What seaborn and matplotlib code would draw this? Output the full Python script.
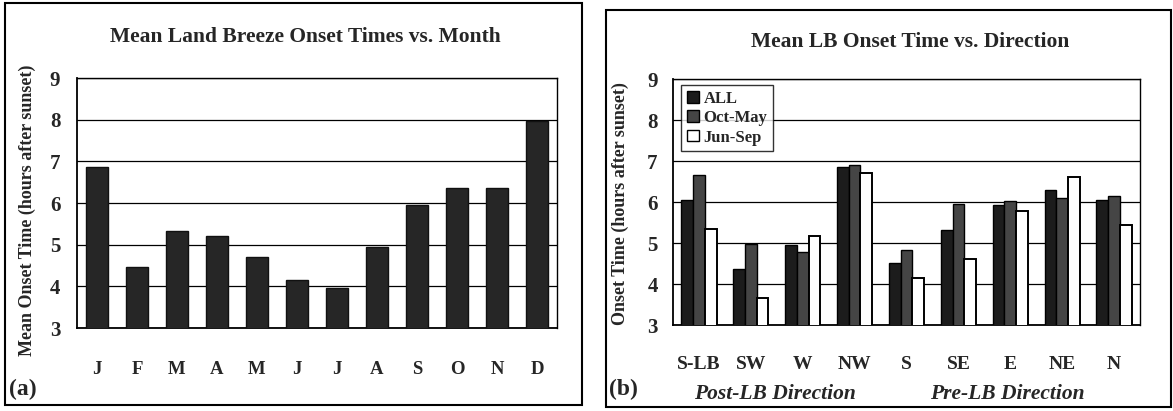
import matplotlib
matplotlib.use("Agg")
import matplotlib.pyplot as plt
import seaborn as sns
import pandas as pd
from matplotlib.patches import Rectangle, Patch

# ---- data ----
month_ids = ["Jan", "Feb", "Mar", "Apr", "May", "Jun", "Jul", "Aug", "Sep", "Oct", "Nov", "Dec"]
month_labels = ["J", "F", "M", "A", "M", "J", "J", "A", "S", "O", "N", "D"]
month_onset = [6.87, 4.47, 5.32, 5.21, 4.70, 4.15, 3.97, 4.95, 5.95, 6.37, 6.37, 7.97]

directions = ["S-LB", "SW", "W", "NW", "S", "SE", "E", "NE", "N"]
series_names = ["ALL", "Oct-May", "Jun-Sep"]
onset_all = [6.05, 4.36, 4.95, 6.86, 4.52, 5.32, 5.93, 6.30, 6.05]
onset_octmay = [6.67, 4.98, 4.78, 6.90, 4.84, 5.95, 6.02, 6.10, 6.14]
onset_junsep = [5.33, 3.65, 5.16, 6.70, 4.15, 4.60, 5.78, 6.62, 5.43]

sns.set_theme(style="white")
plt.rcParams["font.family"] = ["Liberation Serif", "DejaVu Serif"]
plt.rcParams["font.weight"] = "bold"

W, H = 1173, 411
fig = plt.figure(figsize=(W / 100, H / 100), dpi=100)

def fx(px):
    return px / W

def fy(py):
    return 1 - py / H

# panel borders
fig.patches.append(Rectangle((fx(5), fy(405)), fx(577), 402 / H, transform=fig.transFigure,
                             fill=False, edgecolor="black", linewidth=1.5))
fig.patches.append(Rectangle((fx(606), fy(407)), fx(565), 397 / H, transform=fig.transFigure,
                             fill=False, edgecolor="black", linewidth=1.5))

bar_dark = "#1c1c1c"
bar_mid = "#454545"

# ---- left panel ----
ax1 = fig.add_axes([fx(77), fy(328), fx(557 - 77), (328 - 78) / H])
df1 = pd.DataFrame({"month": month_ids, "onset": month_onset})
sns.barplot(data=df1, x="month", y="onset", order=month_ids, color="#262626",
            width=0.53, edgecolor="#111111", linewidth=1.0, ax=ax1, zorder=3)
ax1.set_ylim(3, 9)
ax1.set_yticks([3, 4, 5, 6, 7, 8, 9])
ax1.set_xticks(range(len(month_ids)))
ax1.set_xticklabels(month_labels)
ax1.set_xlabel("")
ax1.set_ylabel("Mean Onset Time (hours after sunset)", fontsize=13, fontweight="bold")
ax1.yaxis.set_label_coords(fx(36), fy(210), transform=fig.transFigure)

# ---- right panel ----
ax2 = fig.add_axes([fx(673), fy(325), fx(1140 - 673), (325 - 79) / H])
df2 = pd.DataFrame({
    "direction": directions * 3,
    "series": [series_names[0]] * 9 + [series_names[1]] * 9 + [series_names[2]] * 9,
    "onset": onset_all + onset_octmay + onset_junsep,
})
palette = {"ALL": bar_dark, "Oct-May": bar_mid, "Jun-Sep": "white"}
sns.barplot(data=df2, x="direction", y="onset", hue="series", order=directions,
            hue_order=series_names, palette=palette, width=0.68, edgecolor="black",
            linewidth=1.0, ax=ax2, zorder=3, legend=False)
for p in ax2.patches:
    if p.get_facecolor()[:3] == (1.0, 1.0, 1.0):
        p.set_linewidth(1.4)
ax2.set_ylim(3, 9)
ax2.set_yticks([3, 4, 5, 6, 7, 8, 9])
ax2.set_xlabel("")
ax2.set_ylabel("Onset Time (hours after sunset)", fontsize=13, fontweight="bold")
ax2.yaxis.set_label_coords(fx(629), fy(204), transform=fig.transFigure)

handles = [Patch(facecolor=palette[s], edgecolor="black", label=s) for s in series_names]
leg = ax2.legend(handles=handles, loc="upper left",
                 bbox_to_anchor=(fx(681), fy(85)), bbox_transform=fig.transFigure,
                 frameon=True, fancybox=False, handlelength=0.7,
                 handleheight=0.7, handletextpad=0.3, labelspacing=0.2,
                 borderpad=0.35, borderaxespad=0.0, prop={"weight": "bold", "size": 12})
leg.get_frame().set_edgecolor("black")
leg.get_frame().set_linewidth(1.0)
leg.set_zorder(5)

for ax, n, ypad in ((ax1, 12, 12), (ax2, 9, 11)):
    ax.grid(axis="y", color="black", linewidth=0.9, zorder=0)
    ax.set_axisbelow(True)
    for s in ax.spines.values():
        s.set_color("black")
        s.set_linewidth(1.0)
    ax.spines["left"].set_linewidth(1.3)
    ax.spines["bottom"].set_linewidth(1.3)
    ax.set_xlim(-0.5, n - 0.5)
    ax.tick_params(axis="y", labelsize=15, length=0, pad=ypad)
    ax.set_xticks([i - 0.5 for i in range(n + 1)], minor=True)
    ax.tick_params(axis="x", which="minor", length=6, width=1.2, direction="out", color="black")
    for lbl in ax.get_yticklabels() + ax.get_xticklabels():
        lbl.set_fontweight("bold")

ax1.tick_params(axis="x", labelsize=13.5, length=0, pad=24)
ax2.tick_params(axis="x", labelsize=14, length=0, pad=22)

# titles and annotations
fig.text(fx(305), fy(37), "Mean Land Breeze Onset Times vs. Month", ha="center", va="center",
         fontsize=15.5, fontweight="bold")
fig.text(fx(910), fy(42), "Mean LB Onset Time vs. Direction", ha="center", va="center",
         fontsize=15.5, fontweight="bold")
fig.text(fx(9), fy(389), "(a)", ha="left", va="center", fontsize=17, fontweight="bold")
fig.text(fx(609), fy(389), "(b)", ha="left", va="center", fontsize=17, fontweight="bold")
fig.text(fx(775), fy(394), "Post-LB Direction", ha="center", va="center", fontsize=15.5,
         fontweight="bold", style="italic")
fig.text(fx(1007), fy(394), "Pre-LB Direction", ha="center", va="center", fontsize=15.5,
         fontweight="bold", style="italic")

fig.savefig("out.png", dpi=100, facecolor="white")
